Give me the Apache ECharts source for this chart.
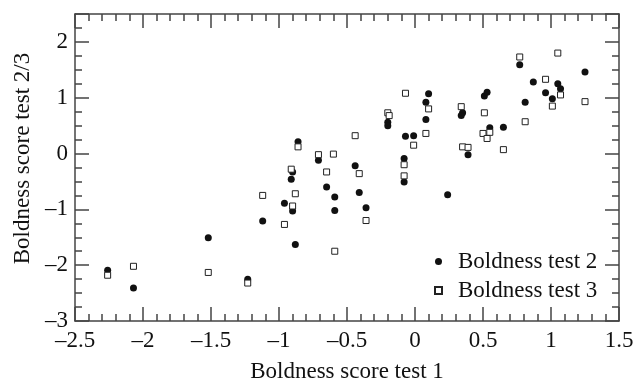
<!DOCTYPE html>
<html>
<head>
<meta charset="utf-8">
<script src="https://cdn.jsdelivr.net/npm/echarts@6/dist/echarts.min.js"></script>
<style>
  html, body { margin: 0; padding: 0; background: #fff; }
  #main { width: 643px; height: 388px; }
</style>
</head>
<body>
<div id="main"></div>
<script>
var chart = echarts.init(document.getElementById('main'));

// test 1 score vs test 2 score (filled circles)
var test2 = [
  [-2.26, -2.09], [-2.07, -2.41], [-1.52, -1.51], [-1.23, -2.25], [-1.12, -1.21],
  [-0.96, -0.89], [-0.90, -1.03], [-0.88, -1.63], [-0.90, -0.33], [-0.91, -0.46],
  [-0.86, 0.21], [-0.71, -0.12], [-0.65, -0.60], [-0.59, -0.78], [-0.59, -1.02],
  [-0.44, -0.22], [-0.41, -0.70], [-0.36, -0.97], [-0.20, 0.56], [-0.20, 0.50],
  [-0.07, 0.31], [-0.01, 0.32], [-0.08, -0.09], [-0.08, -0.51], [0.10, 1.07],
  [0.08, 0.92], [0.08, 0.61], [0.24, -0.74], [0.35, 0.73], [0.34, 0.68],
  [0.39, -0.02], [0.51, 1.03], [0.53, 1.10], [0.55, 0.46], [0.65, 0.47],
  [0.77, 1.59], [0.81, 0.92], [0.87, 1.28], [0.96, 1.09], [1.01, 0.98],
  [1.05, 1.25], [1.07, 1.16], [1.25, 1.46]
];

// test 1 score vs test 3 score (open squares)
var test3 = [
  [-2.26, -2.18], [-2.07, -2.02], [-1.52, -2.13], [-1.23, -2.32], [-1.12, -0.75],
  [-0.96, -1.27], [-0.90, -0.94], [-0.88, -0.72], [-0.91, -0.28], [-0.86, 0.12],
  [-0.71, -0.02], [-0.65, -0.33], [-0.60, -0.01], [-0.59, -1.75], [-0.44, 0.32],
  [-0.41, -0.36], [-0.36, -1.20], [-0.20, 0.73], [-0.19, 0.68], [-0.07, 1.08],
  [-0.01, 0.15], [-0.08, -0.20], [-0.08, -0.40], [0.10, 0.80], [0.08, 0.36],
  [0.34, 0.84], [0.35, 0.12], [0.39, 0.11], [0.51, 0.73], [0.50, 0.36],
  [0.55, 0.38], [0.53, 0.27], [0.65, 0.07], [0.77, 1.73], [0.81, 0.57],
  [0.96, 1.33], [1.05, 1.80], [1.07, 1.05], [1.01, 0.85], [1.25, 0.93]
];

var font = 'Liberation Serif';
var fsize = 23;
var lineColor = '#444';

function dash(v) {
  return String(v).replace('-', '\u2013');
}

function xAx(pos, main) {
  return {
    type: 'value', position: pos, min: -2.5, max: 1.5, interval: 0.5,
    axisLine: { show: true, onZero: false, lineStyle: { color: lineColor, width: 1.5 } },
    axisTick: { show: true, inside: true, length: 14, lineStyle: { color: lineColor, width: 1.5 } },
    minorTick: { show: true, splitNumber: 5, length: 7, lineStyle: { color: lineColor, width: 1.5 } },
    axisLabel: {
      show: main, margin: 8, color: '#111', fontFamily: font, fontSize: fsize,
      formatter: function (v) { return dash(v); }
    },
    splitLine: { show: false },
    name: main ? 'Boldness score test 1' : '',
    nameLocation: 'middle', nameGap: 39,
    nameTextStyle: { color: '#111', fontFamily: font, fontSize: fsize }
  };
}

function yAx(pos, major, main) {
  return {
    type: 'value', position: pos, min: -3, max: 2.5, interval: major ? 1 : 0.25,
    axisLine: { show: major, onZero: false, lineStyle: { color: lineColor, width: 1.5 } },
    axisTick: { show: true, inside: true, length: major ? 14 : 7, lineStyle: { color: lineColor, width: 1.5 } },
    axisLabel: {
      show: main, margin: 7, color: '#111', fontFamily: font, fontSize: fsize,
      formatter: function (v) { return v > 2.1 ? '' : dash(v); }
    },
    splitLine: { show: false },
    name: main ? 'Boldness score test 2/3' : '',
    nameLocation: 'middle', nameGap: 40,
    nameTextStyle: { color: '#111', fontFamily: font, fontSize: fsize, padding: [0, 0, 0, 18] }
  };
}

var option = {
  backgroundColor: '#fff',
  animation: false,
  grid: { left: 75, right: 24, top: 14, bottom: 61, containLabel: false },
  xAxis: [xAx('bottom', true), xAx('top', false)],
  yAxis: [
    yAx('left', true, true), yAx('left', false, false),
    yAx('right', true, false), yAx('right', false, false)
  ],
  legend: {
    orient: 'vertical', left: 429, top: 245, itemGap: 6,
    itemWidth: 7, itemHeight: 7,
    textStyle: { color: '#111', fontFamily: font, fontSize: fsize, padding: [0, 0, 0, 11] },
    data: [
      { name: 'Boldness test 2', icon: 'circle' },
      { name: 'Boldness test 3', icon: 'rect' }
    ]
  },
  series: [
    {
      name: 'Boldness test 2', type: 'scatter', data: test2,
      symbol: 'circle', symbolSize: 7,
      itemStyle: { color: '#111', opacity: 1 }
    },
    {
      name: 'Boldness test 3', type: 'scatter', data: test3,
      symbol: 'rect', symbolSize: 6,
      itemStyle: { color: '#fff', borderColor: '#222', borderWidth: 1, opacity: 1 }
    }
  ]
};

chart.setOption(option);
</script>
</body>
</html>
